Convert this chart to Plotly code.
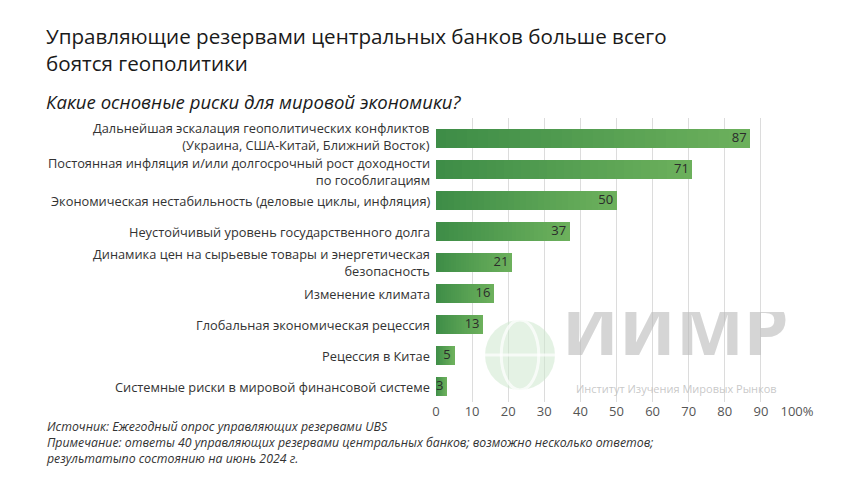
import plotly.graph_objects as go

categories = [
    "Дальнейшая эскалация геополитических конфликтов<br>(Украина, США-Китай, Ближний Восток)",
    "Постоянная инфляция и/или долгосрочный рост доходности<br>по гособлигациям",
    "Экономическая нестабильность (деловые циклы, инфляция)",
    "Неустойчивый уровень государственного долга",
    "Динамика цен на сырьевые товары и энергетическая<br>безопасность",
    "Изменение климата",
    "Глобальная экономическая рецессия",
    "Рецессия в Китае",
    "Системные риски в мировой финансовой системе",
]
values = [87, 71, 50, 37, 21, 16, 13, 5, 3]
tick_vals = [0, 10, 20, 30, 40, 50, 60, 70, 80, 90, 100]
tick_text = ["0", "10", "20", "30", "40", "50", "60", "70", "80", "90", "100%"]

FONT = "Open Sans"
DARK = (62, 141, 71)
LIGHT = (108, 176, 92)
STEPS = 30

fig = go.Figure()
# gradient bars: stacked segments, dark -> light along each bar
for k in range(STEPS):
    t = k / (STEPS - 1)
    col = tuple(round(DARK[i] + (LIGHT[i] - DARK[i]) * t) for i in range(3))
    fig.add_trace(go.Bar(
        y=categories, x=[v / STEPS for v in values], orientation="h",
        marker=dict(color="rgb(%d,%d,%d)" % col, line=dict(width=0)),
        width=0.6, hoverinfo="skip",
    ))
# value labels
fig.add_trace(go.Scatter(
    y=categories, x=values, mode="text",
    text=[str(v) + "\u00a0" for v in values], textposition="middle left",
    textfont=dict(family=FONT, size=13, color="#2b2b2b"),
    hoverinfo="skip",
))

fig.update_layout(
    width=860, height=484,
    barmode="stack",
    margin=dict(l=436, r=63, t=118, b=82),
    paper_bgcolor="white", plot_bgcolor="white",
    showlegend=False,
    font=dict(family=FONT, color="#333333"),
    xaxis=dict(
        range=[0, 100], tickvals=tick_vals, ticktext=tick_text,
        showgrid=True, gridcolor="#dcdcdc", gridwidth=1,
        zeroline=False, showline=False, ticks="",
        tickfont=dict(family=FONT, size=13, color="#555555"),
        fixedrange=True,
    ),
    yaxis=dict(
        categoryorder="array", categoryarray=categories[::-1],
        showgrid=False, zeroline=False, showline=False, ticks="",
        showticklabels=False,
        fixedrange=True,
    ),
)

# category labels (right-aligned next to the bars)
shifts = [2, -2, 0, 0, 0, 0, 0, 0, 0]
for cat, sh in zip(categories, shifts):
    fig.add_annotation(
        text=cat, xref="paper", yref="y", x=(431 - 436) / 361, y=cat,
        xanchor="right", yanchor="middle", align="right", showarrow=False,
        yshift=sh, borderpad=0,
        font=dict(family=FONT, size=12.8, color="#333333"),
    )

X0 = (44 - 436) / 361

# Watermark (decorative)
GX0, GX1, GY0, GY1 = (485 - 436) / 361, (555 - 436) / 361, (402 - 390) / 284, (402 - 320) / 284
fig.add_shape(type="circle", xref="paper", yref="paper",
              x0=GX0, x1=GX1, y0=GY0, y1=GY1,
              fillcolor="rgba(205,232,205,0.55)", line=dict(width=0), layer="above")
fig.add_shape(type="circle", xref="paper", yref="paper",
              x0=GX0 + 0.045, x1=GX1 - 0.045, y0=GY0, y1=GY1,
              line=dict(width=3, color="rgba(255,255,255,0.7)"), layer="above")
fig.add_shape(type="line", xref="paper", yref="paper",
              x0=GX0, x1=GX1, y0=(GY0 + GY1) / 2, y1=(GY0 + GY1) / 2,
              line=dict(width=3, color="rgba(255,255,255,0.7)"), layer="above")
fig.add_annotation(text="<b>ИИМР</b>", xref="paper", yref="paper",
                   x=(675 - 436) / 361, y=(402 - 378) / 284, showarrow=False,
                   font=dict(family="Noto Sans", size=72, color="rgba(185,185,185,0.6)"),
                   xanchor="center", yanchor="bottom", height=64, valign="bottom")
fig.add_annotation(text="Институт Изучения Мировых Рынков", xref="paper", yref="paper",
                   x=(676 - 436) / 361, y=(402 - 379) / 284, showarrow=False,
                   font=dict(family=FONT, size=11, color="rgba(190,190,190,0.85)"),
                   xanchor="center", yanchor="top")

# Titles
fig.add_annotation(text="Управляющие резервами центральных банков больше всего<br>боятся геополитики",
                   xref="paper", yref="paper", x=X0, y=1 + (118 - 20) / 284,
                   xanchor="left", yanchor="top", align="left", showarrow=False,
                   font=dict(family=FONT, size=20.6, color="#1a1a1a"))
fig.add_annotation(text="<i>Какие основные риски для мировой экономики?</i>",
                   xref="paper", yref="paper", x=X0, y=1 + (118 - 87) / 284,
                   xanchor="left", yanchor="top", align="left", showarrow=False,
                   font=dict(family=FONT, size=18.6, color="#1a1a1a"))
fig.add_annotation(text="<i>Источник: Ежегодный опрос управляющих резервами UBS<br>"
                        "Примечание: ответы 40 управляющих резервами центральных банков; возможно несколько ответов;<br>"
                        "результатыпо состоянию на июнь 2024 г.</i>",
                   xref="paper", yref="paper", x=X0, y=-(416 - 402) / 284,
                   xanchor="left", yanchor="top", align="left", showarrow=False,
                   font=dict(family=FONT, size=12.3, color="#333333"))

fig.write_html("out.html")
